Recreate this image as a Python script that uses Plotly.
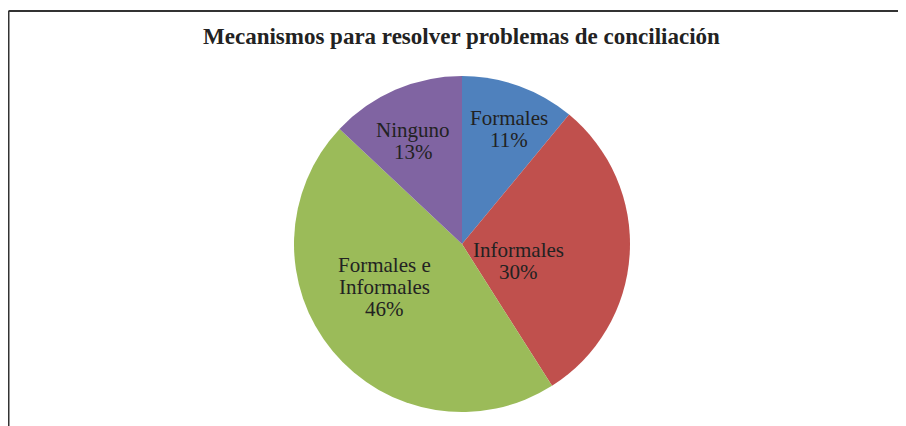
import math
import plotly.graph_objects as go

labels = ["Formales", "Informales", "Formales e Informales", "Ninguno"]
label_lines = [["Formales"], ["Informales"], ["Formales e", "Informales"], ["Ninguno"]]
values = [11, 30, 46, 13]
colors = ["#4F81BD", "#C0504D", "#9BBB59", "#8064A2"]
title = "Mecanismos para resolver problemas de conciliación"

# label placement (style): angular shift from slice mid-angle (deg), radius fraction
label_shift = [2.4, 13.3, 10.7, -1.8]
label_rfrac = [0.74, 0.35, 0.53, 0.68]

OX, OY = 8, 8          # page body margin compensation
W, H = 906 - OX, 426 - OY
cx, cy, r = 462, 244, 168
LINE = 22
FONT = "Liberation Serif"


def px(x):
    return (x - OX) / W


def py(y):
    return 1 - (y - OY) / H


fig = go.Figure(go.Pie(
    labels=labels,
    values=values,
    sort=False,
    direction="clockwise",
    rotation=0,
    marker=dict(colors=colors, line=dict(width=0)),
    textinfo="none",
    showlegend=False,
    hoverinfo="label+percent",
    domain=dict(x=[px(cx - r), px(cx + r)], y=[py(cy + r), py(cy - r)]),
))

annotations = []
total = sum(values)
cum = 0
for lines, v, sh, k in zip(label_lines, values, label_shift, label_rfrac):
    mid = (cum + v / 2) / total * 360 + sh
    cum += v
    lx = cx + k * r * math.sin(math.radians(mid))
    ly = cy - k * r * math.cos(math.radians(mid))
    texts = lines + [f"{round(v / total * 100)}%"]
    n = len(texts)
    for i, t in enumerate(texts):
        yy = ly + (i - (n - 1) / 2) * LINE
        annotations.append(dict(
            text=t, x=px(lx), y=py(yy), xref="paper", yref="paper",
            xanchor="center", yanchor="middle", showarrow=False,
            font=dict(family=FONT, size=21, color="#222222"),
        ))

annotations.append(dict(
    text="<b>" + title + "</b>", x=px(461.5), y=py(37), xref="paper", yref="paper",
    xanchor="center", yanchor="middle", showarrow=False,
    font=dict(family=FONT, size=23, color="#222222"),
))

frame = dict(color="#333333", width=2)
fig.update_layout(
    width=W, height=H,
    margin=dict(l=0, r=0, t=0, b=0),
    paper_bgcolor="white",
    plot_bgcolor="white",
    annotations=annotations,
    shapes=[
        dict(type="line", xref="paper", yref="paper", x0=px(8.5), x1=1.0, y0=py(11), y1=py(11), line=frame),
        dict(type="line", xref="paper", yref="paper", x0=px(8.5), x1=px(8.5), y0=0.0, y1=py(11), line=frame),
    ],
)

fig.write_html("out.html", config={"displayModeBar": False},
               post_script="document.documentElement.style.overflow='hidden';document.body.style.overflow='hidden';")
